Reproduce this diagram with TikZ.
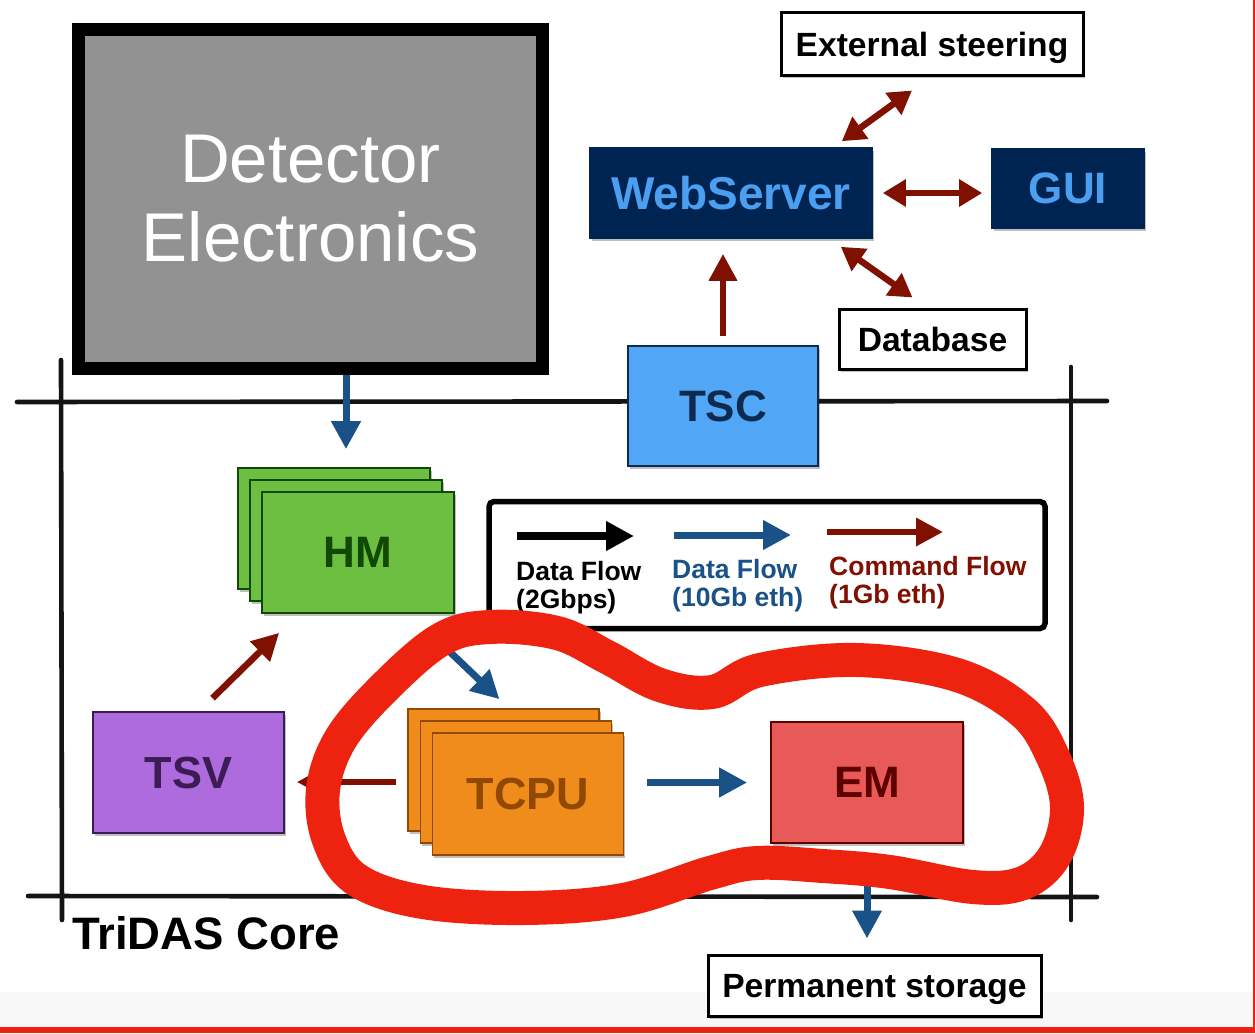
\documentclass[tikz,border=0pt]{standalone}
\usepackage{fontspec}
\setmainfont{Liberation Sans}
\usetikzlibrary{arrows.meta,shadows,calc}

\definecolor{flowblue}{RGB}{26,82,136}
\definecolor{cmdred}{RGB}{128,16,0}
\definecolor{detgray}{RGB}{146,146,146}
\definecolor{hmfill}{RGB}{108,191,64}
\definecolor{hmdark}{RGB}{16,72,4}
\definecolor{tscfill}{RGB}{82,166,246}
\definecolor{tscdark}{RGB}{14,42,79}
\definecolor{wsfill}{RGB}{0,36,81}
\definecolor{wstext}{RGB}{75,158,240}
\definecolor{tsvfill}{RGB}{173,107,222}
\definecolor{tsvdark}{RGB}{60,28,84}
\definecolor{cpufill}{RGB}{240,140,27}
\definecolor{cpudark}{RGB}{145,72,0}
\definecolor{emfill}{RGB}{232,90,88}
\definecolor{emdark}{RGB}{92,0,0}
\definecolor{markred}{RGB}{238,35,15}
\definecolor{footgray}{RGB}{248,248,248}

\newcommand{\fsz}[1]{\fontsize{#1}{#1}\selectfont}

\begin{document}
\begin{tikzpicture}[x=1pt,y=-1pt,
  shade box/.style={drop shadow={shadow xshift=1.5pt,shadow yshift=-2.5pt,opacity=0.25,fill=black}},
  block/.style={rectangle,inner sep=0pt,line width=1.6pt,shade box,font=\bfseries\fsz{44}},
  whitebox/.style={rectangle,inner sep=0pt,draw=black,line width=3pt,fill=white,shade box,font=\bfseries\fsz{33.6},text depth=0pt},
  frameline/.style={line width=4.6pt,line cap=round,black!92},
  bluearr/.style={draw=flowblue,line width=7pt,-{Triangle[length=28pt,width=28pt]}},
  redarr/.style={draw=cmdred,line width=6.5pt,-{Triangle[length=27pt,width=27pt]}},
  redboth/.style={draw=cmdred,line width=6.5pt,{Triangle[length=23pt,width=26pt]}-{Triangle[length=23pt,width=26pt]}},
  blackarr/.style={draw=black,line width=8pt,-{Triangle[length=28pt,width=28pt]}},
  legtext/.style={inner sep=0pt,anchor=base west,font=\bfseries\fsz{26.5}}
]
\useasboundingbox (0,0) rectangle (1255,1033);
\fill[white] (0,0) rectangle (1255,1033);

% footer band and page edge
\fill[footgray] (0,992) rectangle (1255,1027);
\fill[markred] (0,1027) rectangle (1255,1033);
\fill[markred] (1253,0) rectangle (1255,1033);

% TriDAS core frame
\draw[frameline] (17,402) -- (1107,401);
\draw[frameline] (28,896) -- (1097,897);
\draw[frameline] (61,360) -- (62,920);
\draw[frameline] (1071,367) -- (1071,920);
\node[inner sep=0pt,anchor=base west,font=\bfseries\fsz{45.5}] (core) at (72,949) {TriDAS Core};

% detector electronics
\node[rectangle,draw=black,line width=13pt,fill=detgray,inner sep=0pt,
      minimum width=464pt,minimum height=338pt,align=center,text=white,
      font=\fsz{69}] (det) at (310.5,199)
      {Detector\\[10pt]Electronics};

% steering side
\node[whitebox,minimum width=302pt,minimum height=62pt] (ext) at (932,44) {External steering};
\node[block,draw=wsfill,fill=wsfill,text=wstext,minimum width=282pt,minimum height=90pt,font=\bfseries\fsz{46}] (ws) at (731,193) {WebServer};
\node[block,draw=wsfill,fill=wsfill,text=wstext,minimum width=152pt,minimum height=79pt] (gui) at (1068,188.5) {GUI};
\node[whitebox,minimum width=187pt,minimum height=60pt] (db) at (932.5,339) {Database};
\node[block,draw=tscdark,fill=tscfill,text=tscdark,minimum width=190pt,minimum height=120pt] (tsc) at (723,406) {TSC};

% hit managers
\node[block,draw=hmdark,fill=hmfill,minimum width=192pt,minimum height=121pt] (hm1) at (334,528.5) {};
\node[block,draw=hmdark,fill=hmfill,minimum width=192pt,minimum height=121pt] (hm2) at (346,540.5) {};
\node[block,draw=hmdark,fill=hmfill,text=hmdark,minimum width=192pt,minimum height=121pt] (hm3) at (358,552.5) {HM};

% supervisor, trigger CPUs, event manager
\node[block,draw=tsvdark,fill=tsvfill,text=tsvdark,minimum width=191pt,minimum height=121pt,font=\bfseries\fsz{45}] (tsv) at (188.5,772.5) {TSV};
\node[block,draw=cpudark,fill=cpufill,minimum width=191pt,minimum height=122pt] (tcpu1) at (503.5,770) {};
\node[block,draw=cpudark,fill=cpufill,minimum width=191pt,minimum height=122pt] (tcpu2) at (516,782) {};
\node[block,draw=cpudark,fill=cpufill,text=cpudark,minimum width=191pt,minimum height=122pt,font=\bfseries\fsz{45}] (tcpu3) at (528,794) {TCPU};
\node[block,draw=emdark,fill=emfill,text=emdark,minimum width=192pt,minimum height=121pt] (em) at (867,782.5) {EM};
\node[whitebox,minimum width=333pt,minimum height=61pt] (store) at (874.5,985.5) {Permanent storage};

% legend
\node[rectangle,draw=black,line width=5.5pt,rounded corners=5pt,minimum width=556pt,minimum height=127pt] (legend) at (767,565) {};
\coordinate (lk1) at (517,536); \coordinate (lk2) at (634,536);
\coordinate (lb1) at (674,535); \coordinate (lb2) at (791,535);
\coordinate (lr1) at (827,532); \coordinate (lr2) at (943,532);
\draw[blackarr] (lk1) -- (lk2);
\draw[bluearr] (lb1) -- (lb2);
\draw[redarr] (lr1) -- (lr2);
\node[legtext] (lk3) at (516,580) {Data Flow};
\node[legtext] (lk4) at (516,608) {(2Gbps)};
\node[legtext,text=flowblue] (lb3) at (672,578) {Data Flow};
\node[legtext,text=flowblue] (lb4) at (672,606) {(10Gb eth)};
\node[legtext,text=cmdred] (lr3) at (829,575) {Command Flow};
\node[legtext,text=cmdred] (lr4) at (829,603) {(1Gb eth)};

% data flow
\draw[bluearr,shorten >=18pt] (det.south -| hm2) -- (hm1.north -| hm2);
\draw[bluearr] ([shift={(-5,38)}]hm3.south east) -- ([shift={(-4,-9)}]tcpu1.north);
\draw[bluearr,shorten <=23pt,shorten >=23pt] (em.west -| tcpu3.east) -- (em.west);
\draw[bluearr,shorten <=13pt,shorten >=15pt] (em.south) -- (store.north -| em.south);

% command flow
\draw[redarr,shorten <=9pt,shorten >=15pt] (tsc.north) -- (ws.south -| tsc.north);
\draw[redboth] ([shift={(-31,-6)}]ws.north east) -- ([shift={(-20,14)}]ext.south);
\draw[redboth,shorten <=10pt,shorten >=9pt] (ws.east) -- (ws.east -| gui.west);
\draw[redboth] ([shift={(-32,8)}]ws.south east) -- ([shift={(-20,-10)}]db.north);
\draw[redarr] ([shift={(24,-13)}]tsv.north) -- ([shift={(42,43)}]hm1.south west);
\draw[redarr,shorten <=11pt,shorten >=12pt] ([yshift=-12pt]tcpu1.west) -- ([yshift=-12pt]tcpu1.west -| tsv.east);

% hand-drawn marker loop
\draw[markred,line width=34pt,line cap=round,line join=round]
  plot[smooth cycle,tension=0.6] coordinates {
    (490,627) (557,633) (607,657) (660,685) (712,692) (760,670) (857,660)
    (957,675) (1023,712) (1053,757) (1067,807) (1055,855) (1023,883)
    (973,887) (890,872) (823,866) (757,863) (710,873) (623,900) (523,908)
    (423,902) (357,880) (329,840) (323,790) (340,740) (382,690) (440,640)};
\end{tikzpicture}
\end{document}
